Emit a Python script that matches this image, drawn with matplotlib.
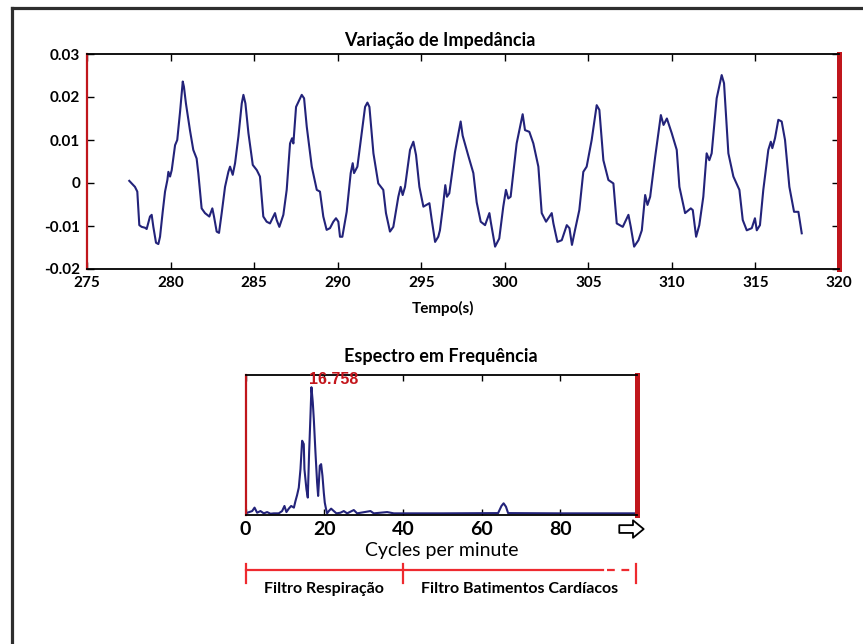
import matplotlib
matplotlib.use("Agg")
import matplotlib.pyplot as plt
import matplotlib.transforms as mtransforms
from matplotlib.lines import Line2D
from matplotlib.ticker import FuncFormatter

plt.rcParams["font.family"] = ["Lato", "DejaVu Sans"]
plt.rcParams["font.weight"] = "bold"
plt.rcParams["axes.unicode_minus"] = False

# Variação de impedância (s, ohm)
tempo = [
    277.53, 277.87, 278.01, 278.13, 278.27, 278.47, 278.57, 278.77, 278.87, 278.97,
    279.13, 279.27, 279.37, 279.53, 279.67, 279.81, 279.87, 279.97, 280.07, 280.27,
    280.40, 280.57, 280.73, 280.80, 280.92, 281.16, 281.36, 281.56, 281.66, 281.86,
    282.06, 282.32, 282.50, 282.60, 282.76, 282.90, 283.06, 283.26, 283.46, 283.56,
    283.72, 283.86, 284.06, 284.26, 284.36, 284.48, 284.66, 284.92, 285.16, 285.35,
    285.55, 285.75, 285.95, 286.25, 286.35, 286.51, 286.75, 286.95, 287.15, 287.27,
    287.35, 287.51, 287.85, 287.99, 288.15, 288.45, 288.75, 288.94, 289.14, 289.34,
    289.54, 289.74, 289.90, 290.04, 290.14, 290.28, 290.54, 290.78, 290.90, 290.98,
    291.18, 291.44, 291.64, 291.78, 291.90, 292.14, 292.43, 292.73, 292.89, 293.13,
    293.33, 293.63, 293.77, 293.89, 294.03, 294.33, 294.53, 294.69, 294.89, 295.13,
    295.49, 295.63, 295.83, 296.02, 296.12, 296.30, 296.44, 296.54, 296.68, 297.02,
    297.36, 297.48, 297.82, 298.12, 298.32, 298.56, 298.82, 299.08, 299.16, 299.42,
    299.67, 299.91, 300.07, 300.21, 300.35, 300.71, 301.07, 301.21, 301.47, 301.71,
    302.01, 302.21, 302.47, 302.81, 302.91, 303.15, 303.41, 303.71, 303.87, 304.02,
    304.20, 304.46, 304.70, 304.90, 305.20, 305.50, 305.66, 305.90, 306.20, 306.50,
    306.70, 307.06, 307.40, 307.54, 307.74, 308.00, 308.20, 308.40, 308.54, 308.70,
    309.00, 309.34, 309.50, 309.70, 309.99, 310.29, 310.45, 310.79, 311.13, 311.25,
    311.45, 311.64, 311.88, 312.08, 312.24, 312.38, 312.68, 312.98, 313.12, 313.38,
    313.68, 314.04, 314.24, 314.48, 314.78, 314.97, 315.08, 315.27, 315.47, 315.77,
    315.92, 316.01, 316.17, 316.37, 316.57, 316.77, 317.03, 317.31, 317.57, 317.77,
]
impedancia = [
    0.0005, -0.0009, -0.0020, -0.0098, -0.0102, -0.0104, -0.0107, -0.0078, -0.0074, -0.0102,
    -0.0139, -0.0142, -0.0125, -0.0067, -0.0020, 0.0007, 0.0026, 0.0015, 0.0030, 0.0088,
    0.0100, 0.0166, 0.0236, 0.0224, 0.0185, 0.0123, 0.0077, 0.0057, 0.0023, -0.0059,
    -0.0070, -0.0078, -0.0059, -0.0078, -0.0113, -0.0116, -0.0070, -0.0009, 0.0026, 0.0038,
    0.0019, 0.0046, 0.0108, 0.0185, 0.0205, 0.0185, 0.0116, 0.0042, 0.0030, 0.0015,
    -0.0078, -0.0090, -0.0094, -0.0070, -0.0086, -0.0102, -0.0074, -0.0016, 0.0092, 0.0104,
    0.0092, 0.0177, 0.0205, 0.0197, 0.0131, 0.0038, -0.0016, -0.0020, -0.0078, -0.0109,
    -0.0105, -0.0090, -0.0082, -0.0090, -0.0125, -0.0125, -0.0067, 0.0023, 0.0046, 0.0023,
    0.0038, 0.0116, 0.0177, 0.0187, 0.0177, 0.0069, -0.0001, -0.0016, -0.0070, -0.0113,
    -0.0102, -0.0032, -0.0009, -0.0028, -0.0009, 0.0077, 0.0096, 0.0065, -0.0009, -0.0055,
    -0.0047, -0.0086, -0.0137, -0.0125, -0.0110, -0.0055, -0.0005, -0.0032, -0.0024, 0.0072,
    0.0143, 0.0110, 0.0063, 0.0023, -0.0045, -0.0090, -0.0098, -0.0070, -0.0090, -0.0148,
    -0.0129, -0.0055, -0.0016, -0.0036, -0.0032, 0.0092, 0.0160, 0.0123, 0.0119, 0.0092,
    0.0038, -0.0070, -0.0090, -0.0070, -0.0094, -0.0137, -0.0133, -0.0098, -0.0105, -0.0144,
    -0.0110, -0.0063, 0.0026, 0.0038, 0.0100, 0.0181, 0.0170, 0.0053, 0.0007, -0.0001,
    -0.0094, -0.0102, -0.0074, -0.0102, -0.0148, -0.0133, -0.0110, -0.0028, -0.0051, -0.0032,
    0.0061, 0.0158, 0.0135, 0.0150, 0.0116, 0.0077, -0.0009, -0.0070, -0.0059, -0.0063,
    -0.0125, -0.0098, -0.0032, 0.0069, 0.0053, 0.0069, 0.0197, 0.0251, 0.0232, 0.0069,
    0.0015, -0.0016, -0.0086, -0.0110, -0.0105, -0.0082, -0.0110, -0.0098, -0.0016, 0.0077,
    0.0096, 0.0081, 0.0104, 0.0147, 0.0143, 0.0100, -0.0009, -0.0067, -0.0067, -0.0117,
]

# Espectro (ciclos por minuto, amplitude normalizada pelo pico)
freq = [
    0.0, 1.7, 2.3, 2.95, 3.8, 4.65, 5.5, 6.35, 7.2, 8.45,
    9.3, 9.9, 10.4, 11.0, 11.6, 12.3, 12.7, 13.1, 13.54, 13.97,
    14.39, 14.81, 14.98, 15.49, 15.83, 16.17, 16.51, 16.758, 17.1, 17.36,
    17.78, 18.2, 18.46, 18.88, 19.22, 19.56, 19.9, 20.15, 20.49, 20.74,
    21.17, 21.76, 22.44, 23.11, 24.13, 24.98, 25.83, 27.52, 28.37, 31.76,
    32.6, 36.0, 37.7, 50.0, 64.2, 65.05, 65.6, 66.2, 66.74, 80.0,
    99.5,
]
amplitude = [
    0.008, 0.026, 0.053, 0.013, 0.026, 0.008, 0.018, 0.005, 0.008, 0.008,
    0.026, 0.066, 0.018, 0.045, 0.066, 0.053, 0.105, 0.150, 0.21, 0.355,
    0.579, 0.553, 0.355, 0.197, 0.132, 0.487, 0.776, 1.0, 0.882, 0.75,
    0.487, 0.25, 0.145, 0.382, 0.395, 0.303, 0.171, 0.092, 0.039, 0.008,
    0.026, 0.045, 0.026, 0.008, 0.013, 0.026, 0.008, 0.034, 0.008, 0.026,
    0.008, 0.018, 0.008, 0.008, 0.01, 0.066, 0.087, 0.06, 0.01, 0.008,
    0.008,
]
pico_freq = 16.758

faixas = [(0, 40, "Filtro Respiração"), (40, 99.3, "Filtro Batimentos Cardíacos")]

cor_linha = "#23237a"
cor_spine = "#c0161c"
cor_faixa = "#ee2a2f"

fig = plt.figure(figsize=(8.63, 6.44), dpi=100)

# moldura
fig.add_artist(Line2D([12 / 863, 1], [1 - 8 / 644, 1 - 8 / 644], color="#2e2e2e", lw=2.3))
fig.add_artist(Line2D([12 / 863, 12 / 863], [0, 1 - 8 / 644], color="#2e2e2e", lw=2.3))


def estilo_eixos(ax):
    for lado in ("top", "bottom"):
        ax.spines[lado].set_color("black")
        ax.spines[lado].set_linewidth(1.3)
    ax.spines["left"].set_color(cor_spine)
    ax.spines["left"].set_linewidth(1.6)
    ax.spines["right"].set_color(cor_spine)
    ax.spines["right"].set_linewidth(3.6)


# --- sinal no tempo ---
ax1 = fig.add_axes([87 / 863, 1 - 269 / 644, 752 / 863, 215 / 644])
ax1.plot(tempo, impedancia, color=cor_linha, lw=1.5)
ax1.set_xlim(275, 320)
ax1.set_ylim(-0.02, 0.03)
ax1.set_xticks(range(275, 321, 5))
ax1.set_yticks([-0.02, -0.01, 0, 0.01, 0.02, 0.03])
ax1.yaxis.set_major_formatter(FuncFormatter(lambda v, _: f"{v:g}"))
ax1.tick_params(direction="in", top=True, right=True, length=5, width=1,
                labelsize=11, pad=5)
estilo_eixos(ax1)
ax1.set_title("Variação de Impedância", fontsize=13, fontweight="bold", x=0.469, pad=6)
ax1.set_xlabel("Tempo(s)", fontsize=11, fontweight="bold")
ax1.xaxis.set_label_coords(0.473, -0.15)

# --- espectro ---
ax2 = fig.add_axes([245.5 / 863, 1 - 515 / 644, 391.5 / 863, 140.5 / 644])
ax2.plot(freq, amplitude, color=cor_linha, lw=1.5)
ax2.set_xlim(0, 99.5)
ax2.set_ylim(-0.005, 1.1)
ax2.set_xticks([0, 20, 40, 60, 80])
ax2.set_yticks([])
ax2.tick_params(direction="in", top=True, length=4, width=1, labelsize=14, pad=4)
estilo_eixos(ax2)
ax2.set_title("Espectro em Frequência", fontsize=13, fontweight="bold", pad=9)
ax2.set_xlabel("Cycles per minute", fontsize=14, fontweight="normal")
ax2.xaxis.set_label_coords(0.5, -0.19)
ax2.annotate(f"{pico_freq:.3f}", xy=(pico_freq, max(amplitude)), xytext=(-2, 0),
             textcoords="offset points", color="#c4161c", fontsize=11.5,
             fontweight="bold", family="Liberation Sans", ha="left", va="bottom")

mist = mtransforms.blended_transform_factory(ax2.transData, ax2.transAxes)

# seta após o último rótulo
ax2.annotate("", xy=(101.2, -0.1), xytext=(95.0, -0.1), xycoords=mist, textcoords=mist,
             annotation_clip=False,
             arrowprops=dict(arrowstyle="simple,head_length=0.55,head_width=0.9,tail_width=0.4",
                             fc="white", ec="black", lw=1.3, mutation_scale=14,
                             shrinkA=0, shrinkB=0))

# faixas dos filtros
y_faixa = -0.393
for ini, fim, nome in faixas:
    ax2.plot([ini, ini], [-0.35, -0.485], color=cor_faixa, lw=1.6, transform=mist, clip_on=False)
    ax2.text((ini + fim) / 2, -0.53, nome, transform=mist, ha="center", va="center",
             fontsize=11.5, fontweight="bold")
ax2.plot([0, 90.9], [y_faixa, y_faixa], color=cor_faixa, lw=1.6, transform=mist, clip_on=False)
ax2.plot([92.0, 99.3], [y_faixa, y_faixa], color=cor_faixa, lw=1.6, ls=(0, (3.5, 3.0)),
         transform=mist, clip_on=False)
ax2.plot([99.3, 99.3], [-0.35, -0.485], color=cor_faixa, lw=1.6, transform=mist, clip_on=False)

fig.savefig("out.png", dpi=100)
